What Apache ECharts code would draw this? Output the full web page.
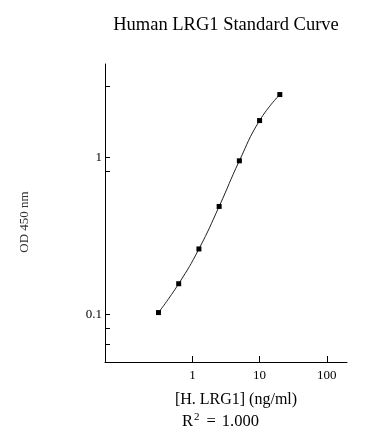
<!DOCTYPE html>
<html>
<head>
<meta charset="utf-8">
<script src="https://cdn.jsdelivr.net/npm/echarts@6/dist/echarts.min.js"></script>
<style>html,body{margin:0;padding:0;background:#fff;}#c{width:388px;height:444px;}</style>
</head>
<body>
<div id="c"></div>
<script>
var concentrations = [0.3125, 0.625, 1.25, 2.5, 5, 10, 20];
var odValues = [0.103, 0.157, 0.261, 0.486, 0.947, 1.706, 2.495];
var xTickValues = [1, 10, 100];
var xTickLabels = ['1', '10', '100'];
var yTickValues = [0.0646, 0.0824, 0.1, 0.818, 1, 2.83];
var yLabelValues = [0.1, 1];

var chart = echarts.init(document.getElementById('c'));
var font = '"Liberation Serif", "Times New Roman", serif';
var points = concentrations.map(function (c, i) { return [c, odValues[i]]; });

chart.setOption({
  animation: false,
  backgroundColor: '#fff',
  grid: { left: 105, right: 41, top: 64, bottom: 82 },
  xAxis: {
    type: 'log', logBase: 10, min: 0.05, max: 200,
    axisLine: { lineStyle: { color: '#000', width: 1 } },
    axisTick: { inside: true, length: 6, lineStyle: { color: '#000' }, customValues: xTickValues },
    axisLabel: { margin: 7, fontFamily: font, fontSize: 13, color: '#000', customValues: xTickValues,
      formatter: function (v) { var i = xTickValues.indexOf(v); return i >= 0 ? xTickLabels[i] : String(v); } },
    splitLine: { show: false }
  },
  yAxis: {
    type: 'log', logBase: 10, min: 0.05, max: 3.9,
    axisLine: { show: true, lineStyle: { color: '#000', width: 1 } },
    axisTick: { show: true, inside: true, length: 5, lineStyle: { color: '#000' }, customValues: yTickValues },
    axisLabel: { margin: 3, fontFamily: font, fontSize: 13, color: '#000', customValues: yLabelValues,
      formatter: function (v) { return String(v); } },
    splitLine: { show: false }
  },
  series: [{
    type: 'line',
    data: points,
    smooth: true,
    symbol: 'rect',
    symbolSize: 5,
    itemStyle: { color: '#000' },
    lineStyle: { color: '#222', width: 1 }
  }],
  graphic: [
    { type: 'text', position: [226, 25],
      style: { text: 'Human LRG1 Standard Curve', fontFamily: font, fontSize: 18.5, fill: '#000', align: 'center', verticalAlign: 'middle' } },
    { type: 'text', position: [25, 222], rotation: Math.PI / 2,
      style: { text: 'OD 450 nm', fontFamily: font, fontSize: 13, fill: '#333', align: 'center', verticalAlign: 'middle' } },
    { type: 'text', position: [236, 400],
      style: { text: '[H. LRG1] (ng/ml)', fontFamily: font, fontSize: 16, fill: '#000', align: 'center', verticalAlign: 'middle' } },
    { type: 'text', position: [220.5, 422],
      style: { text: '{a|R}{s|2}{b|=}{c|1.000}', fontFamily: font, align: 'center', verticalAlign: 'middle',
        rich: { a: { fontFamily: font, fontSize: 16.5, color: '#000' },
                s: { fontFamily: font, fontSize: 11, color: '#000', verticalAlign: 'top', padding: [0, 0, 9, 1] },
                b: { fontFamily: font, fontSize: 16.5, color: '#000', padding: [0, 6, 0, 7] },
                c: { fontFamily: font, fontSize: 16.5, color: '#000' } } } }
  ]
});
</script>
</body>
</html>
